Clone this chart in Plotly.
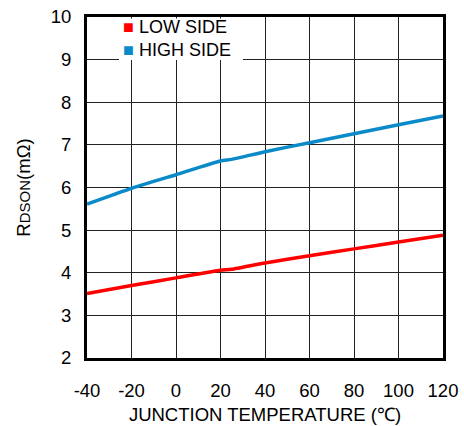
import plotly.graph_objects as go

# Data
temperature_c = [-40, -20, 0, 20, 25, 40, 60, 80, 100, 120]
rdson_high_side = [5.61, 5.98, 6.30, 6.62, 6.66, 6.84, 7.05, 7.26, 7.47, 7.68]
rdson_low_side = [3.51, 3.70, 3.88, 4.06, 4.08, 4.23, 4.40, 4.56, 4.72, 4.88]

x_ticks = [-40, -20, 0, 20, 40, 60, 80, 100, 120]
y_ticks = [2, 3, 4, 5, 6, 7, 8, 9, 10]

series_names = ["LOW SIDE", "HIGH SIDE"]
series_colors = ["#ff0000", "#0a8ac8"]

FONT = "Liberation Sans, Arial, sans-serif"
FS = 18.5

fig = go.Figure()
fig.add_trace(go.Scatter(x=temperature_c, y=rdson_low_side, mode="lines",
                         name=series_names[0], showlegend=False,
                         line=dict(color=series_colors[0], width=3.5, shape="spline", smoothing=0.5)))
fig.add_trace(go.Scatter(x=temperature_c, y=rdson_high_side, mode="lines",
                         name=series_names[1], showlegend=False,
                         line=dict(color=series_colors[1], width=3.5, shape="spline", smoothing=0.5)))

W, H = 464, 426
L, R, T, B = 87, 21, 17, 68
pw = W - L - R
ph = H - T - B

def px(xp):
    return (xp - L) / pw

def py(yp):
    return 1 - (yp - T) / ph

# legend background box
fig.add_shape(type="rect", xref="paper", yref="paper",
              x0=px(119), x1=px(243), y0=py(60), y1=py(18.5),
              fillcolor="white", line=dict(width=0), layer="above")

legend_text = "<br>".join(
    f"<span style='color:{c}'>■</span> {n}" for n, c in zip(series_names, series_colors))
fig.add_annotation(xref="paper", yref="paper", x=px(121), y=py(38.5),
                   xanchor="left", yanchor="middle", align="left", showarrow=False,
                   text=legend_text,
                   font=dict(family=FONT, size=18, color="black"))

fig.update_layout(
    width=W, height=H,
    margin=dict(l=L, r=R, t=T, b=B, autoexpand=False),
    paper_bgcolor="white", plot_bgcolor="white",
    font=dict(family=FONT, size=FS, color="black"),
    showlegend=False,
)
fig.update_xaxes(range=[-40, 120], tickvals=x_ticks, ticktext=[str(v) for v in x_ticks],
                 showgrid=True, gridcolor="#222", gridwidth=1.2,
                 showline=True, linecolor="black", linewidth=3, mirror=True,
                 zeroline=False, ticks="", ticklabelstandoff=14, automargin=True,
                 ticklabeloverflow="allow",
                 title=dict(text="JUNCTION TEMPERATURE (℃)", standoff=8,
                            font=dict(family=FONT, size=FS)))
fig.update_yaxes(range=[2, 10], tickvals=y_ticks, ticktext=[str(v) for v in y_ticks],
                 showgrid=True, gridcolor="#222", gridwidth=1.2,
                 showline=True, linecolor="black", linewidth=3, mirror=True,
                 zeroline=False, ticks="", ticklabelstandoff=9, automargin=True,
                 ticklabeloverflow="allow",
                 title=dict(text="R<span style='font-size:15px'>DSON</span>(mΩ)", standoff=16,
                            font=dict(family=FONT, size=FS)))

# remove the default page margin so the figure fills the window exactly
fig.write_html("out.html",
               config={"displayModeBar": False},
               post_script="document.body.style.margin='0px';document.body.style.overflow='hidden';")
